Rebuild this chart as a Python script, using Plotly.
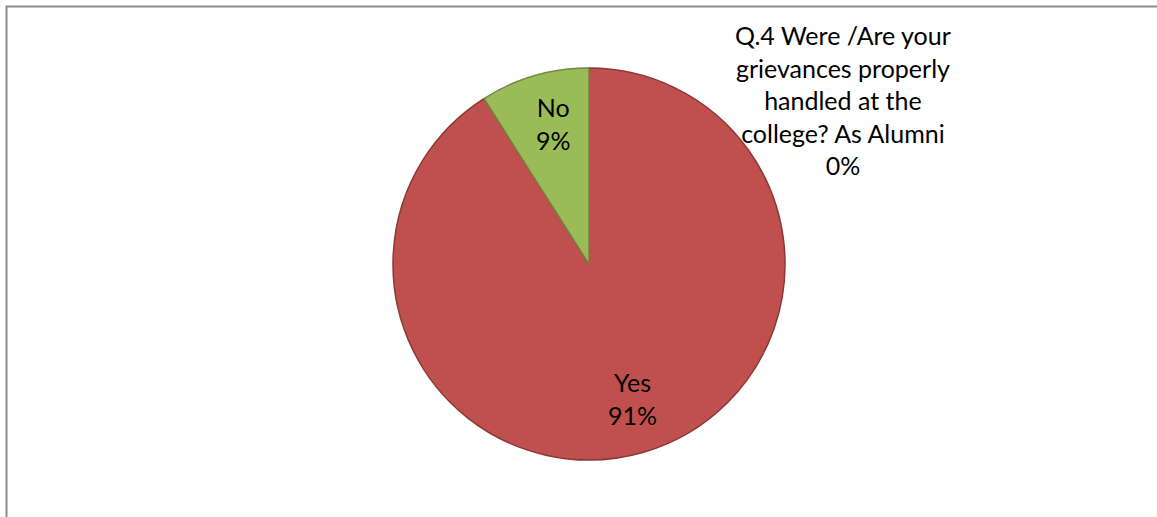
import math
import plotly.graph_objects as go

# ---- data ----
categories = ["Q.4 Were /Are your grievances properly handled at the college? As Alumni", "Yes", "No"]
values = [0, 91, 9]
pct_labels = ["0%", "91%", "9%"]
slice_colors = ["#4F81BD", "#C0504D", "#9BBB59"]
slice_lines = ["#385D8A", "#8C3836", "#71893F"]

W, H = 1157, 517
cx_px, cy_px, r_px = 589, 264, 196

dom_x = [(cx_px - r_px) / W, (cx_px + r_px) / W]
dom_y = [1 - (cy_px + r_px) / H, 1 - (cy_px - r_px) / H]

fig = go.Figure(go.Pie(
    labels=categories,
    values=values,
    sort=False,
    direction="clockwise",
    rotation=0,
    textinfo="none",
    hoverinfo="label+percent",
    marker=dict(colors=slice_colors, line=dict(color=slice_lines, width=1.5)),
    domain=dict(x=dom_x, y=dom_y),
    showlegend=False,
))

font = dict(family="Lato, Calibri, sans-serif", size=25, color="#000000")

# inside labels for non-zero slices, positioned from data angles
total = sum(values)
cum = 0.0
annotations = []
for cat, v, p in zip(categories, values, pct_labels):
    if v > 0:
        mid = (cum + v / 2) / total * 2 * math.pi
        f = 0.73
        x_px = cx_px + r_px * f * math.sin(mid) + 4
        y_px = cy_px - r_px * f * math.cos(mid) - 3
        annotations.append(dict(
            x=x_px / W, y=1 - y_px / H, xref="paper", yref="paper",
            text=f"{cat}<br>{p}", showarrow=False, font=font,
            xanchor="center", yanchor="middle", align="center",
        ))
    cum += v

# zero-value slice label (outside, best fit at top-right)
q_lines = ["Q.4 Were /Are your", "grievances properly", "handled at the", "college? As Alumni"]
annotations.append(dict(
    x=843 / W, y=1 - 100 / H, xref="paper", yref="paper",
    text="<br>".join(q_lines + [pct_labels[0]]), showarrow=False, font=font,
    xanchor="center", yanchor="middle", align="center",
))

fig.update_layout(
    width=W, height=H,
    margin=dict(l=0, r=0, t=0, b=0),
    paper_bgcolor="white", plot_bgcolor="white",
    annotations=annotations,
    shapes=[dict(
        type="rect", xref="paper", yref="paper",
        x0=6.5 / W, x1=1.2, y0=-0.2, y1=1 - 6.5 / H,
        line=dict(color="#8C8C8C", width=2), fillcolor="rgba(0,0,0,0)", layer="below",
    )],
)

fig.write_html(
    "out.html",
    config={"displayModeBar": False},
    post_script="document.body.style.margin='0';document.body.style.overflow='hidden';",
)
